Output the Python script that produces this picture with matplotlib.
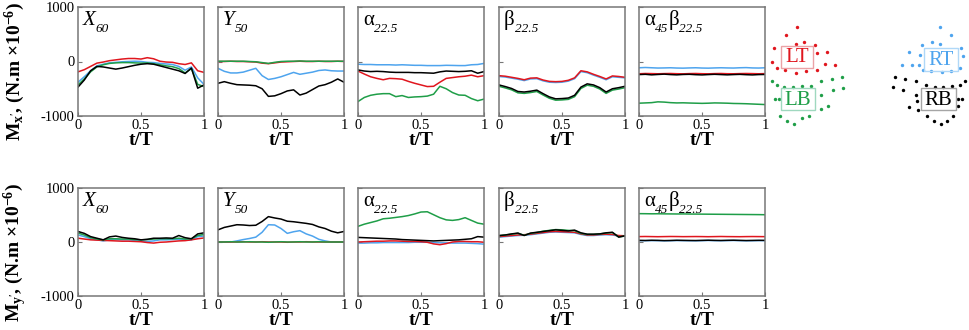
import matplotlib
matplotlib.use('Agg')
import matplotlib.pyplot as plt
from matplotlib.patches import Rectangle
from matplotlib.transforms import offset_copy

plt.rcParams['font.family'] = ['Liberation Serif', 'DejaVu Serif']
plt.rcParams['mathtext.fontset'] = 'custom'
plt.rcParams['mathtext.rm'] = 'Liberation Serif'
plt.rcParams['mathtext.it'] = 'Liberation Serif:italic'
plt.rcParams['mathtext.bf'] = 'Liberation Serif:bold'
plt.rcParams['axes.unicode_minus'] = False

# temps adimensionnel
t_T = [0, 0.05, 0.1, 0.15, 0.2, 0.25, 0.3, 0.35, 0.4, 0.45, 0.5,
       0.55, 0.6, 0.65, 0.7, 0.75, 0.8, 0.85, 0.9, 0.95, 1.0]

# ---- Mx' (rangee du haut) : lt = rouge, lb = vert, rt = bleu, rb = noir
mx_x60_lt = [-190, -150, -90, -30, -10, 15, 30, 45, 55, 55, 45, 70, 50, 5, -10, -15, -40, -55, -25, -170, -200]
mx_x60_rt = [-380, -280, -170, -80, -50, -25, -15, -5, 0, 5, 0, -15, -20, -35, -45, -55, -90, -160, -100, -300, -420]
mx_x60_lb = [-430, -320, -190, -100, -60, -35, -25, -20, -20, -25, -30, -25, -40, -60, -80, -95, -130, -210, -130, -420, -460]
mx_x60_rb = [-470, -340, -170, -90, -100, -120, -140, -120, -95, -70, -50, -40, -50, -80, -110, -140, -170, -220, -120, -490, -430]

mx_y50_lt = [0, 0, 5, 0, 0, -5, -10, -30, -40, -25, -10, -5, 0, 5, 0, 0, 5, 0, 0, 5, 0]
mx_y50_lb = [5, 5, 5, 5, 5, 0, -5, -20, -35, -15, 0, 5, 5, 10, 5, 5, 5, 5, 5, 5, 5]
mx_y50_rt = [-125, -180, -210, -210, -195, -160, -125, -260, -330, -310, -280, -240, -200, -235, -215, -195, -165, -155, -170, -175, -175]
mx_y50_rb = [-400, -370, -400, -425, -430, -435, -445, -500, -640, -630, -590, -540, -520, -615, -580, -515, -450, -425, -380, -320, -380]

mx_a22_lt = [-175, -230, -280, -310, -335, -310, -315, -325, -365, -400, -430, -460, -455, -380, -310, -295, -280, -270, -250, -280, -260]
mx_a22_lb = [-735, -660, -620, -600, -590, -590, -645, -625, -660, -650, -645, -635, -600, -455, -500, -570, -615, -620, -680, -720, -690]
mx_a22_rt = [-50, -55, -55, -60, -60, -60, -65, -60, -65, -70, -70, -75, -75, -75, -70, -72, -75, -75, -60, -55, -35]
mx_a22_rb = [-155, -175, -185, -180, -185, -195, -200, -200, -200, -205, -205, -210, -215, -190, -175, -180, -185, -180, -170, -215, -185]

mx_b22_lt = [-260, -270, -290, -310, -335, -305, -300, -340, -365, -370, -365, -345, -300, -170, -190, -235, -275, -320, -265, -275, -290]
mx_b22_rt = [-275, -285, -305, -325, -350, -320, -315, -355, -380, -385, -380, -360, -315, -185, -205, -250, -290, -335, -280, -290, -300]
mx_b22_rb = [-430, -460, -495, -550, -560, -545, -525, -590, -650, -685, -680, -670, -620, -470, -410, -430, -480, -560, -500, -480, -455]
mx_b22_lb = [-455, -485, -520, -575, -585, -570, -550, -615, -675, -710, -705, -695, -645, -495, -435, -455, -505, -585, -525, -505, -480]

mx_ab_rt = [-115, -110, -115, -120, -118, -115, -120, -122, -118, -115, -120, -122, -118, -115, -118, -120, -115, -112, -118, -120, -115]
mx_ab_lt = [-225, -220, -222, -225, -222, -220, -224, -226, -222, -220, -224, -226, -222, -220, -224, -225, -222, -220, -222, -225, -222]
mx_ab_rb = [-240, -235, -245, -238, -232, -240, -245, -238, -235, -242, -246, -240, -235, -240, -245, -240, -236, -242, -246, -240, -238]
mx_ab_lb = [-765, -760, -755, -740, -745, -755, -760, -758, -762, -765, -768, -765, -760, -762, -765, -770, -772, -775, -780, -785, -790]

# ---- My' (rangee du bas)
my_x60_rb = [195, 160, 100, 70, 40, 95, 110, 85, 70, 60, 40, 50, 70, 70, 75, 70, 120, 80, 60, 150, 170]
my_x60_rt = [130, 100, 60, 40, 20, 40, 45, 40, 40, 30, 15, 10, 20, 40, 40, 45, 50, 40, 40, 100, 110]
my_x60_lb = [165, 130, 80, 55, 40, 60, 60, 55, 55, 45, 40, 45, 55, 60, 60, 60, 70, 55, 60, 120, 140]
my_x60_lt = [70, 55, 40, 35, 30, 25, 20, 15, 15, 10, 5, -10, -20, -5, 0, 10, 20, 25, 40, 60, 75]

my_y50_rb = [225, 270, 295, 320, 315, 305, 310, 380, 470, 445, 425, 385, 375, 360, 345, 325, 280, 250, 200, 170, 195]
my_y50_rt = [0, 0, 0, 20, 45, 65, 90, 180, 320, 315, 250, 160, 190, 210, 150, 110, 50, 20, 0, 0, 0]
my_y50_lb = [0, 0, 5, 0, 0, 5, 0, 0, -5, 0, 5, 0, 0, 5, 0, 0, 5, 0, 0, 0, 0]
my_y50_lt = [0, 0, 0, 0, 5, 0, 0, 5, 0, 0, 0, -5, 0, 0, 5, 0, 0, 0, 0, 0, 0]

my_a22_lb = [290, 330, 360, 390, 430, 440, 455, 470, 490, 520, 555, 560, 505, 450, 410, 400, 415, 450, 400, 350, 330]
my_a22_rb = [85, 80, 75, 70, 65, 60, 55, 45, 40, 35, 30, 25, 20, 25, 30, 35, 40, 50, 60, 100, 90]
my_a22_lt = [0, 5, 10, 15, 15, 20, 20, 15, 10, 10, 5, -5, -35, -50, -30, 0, 10, 10, 5, 5, -5]
my_a22_rt = [-20, -20, -15, -15, -10, -10, -10, -10, -10, -5, -5, -5, -10, -15, -15, -20, -20, -20, -25, -30, -40]

my_b22_rb = [120, 130, 150, 165, 120, 165, 180, 195, 210, 225, 215, 205, 220, 170, 145, 145, 150, 170, 180, 90, 115]
my_b22_lb = [115, 130, 145, 160, 125, 160, 175, 200, 215, 230, 225, 215, 210, 160, 140, 140, 150, 165, 175, 95, 110]
my_b22_lt = [100, 110, 120, 130, 135, 145, 160, 175, 190, 195, 190, 185, 180, 150, 130, 130, 140, 145, 140, 120, 115]
my_b22_rt = [90, 100, 110, 120, 125, 135, 150, 165, 180, 185, 180, 175, 170, 140, 120, 120, 130, 135, 130, 110, 105]

my_ab_lb = [525, 524, 522, 523, 521, 520, 519, 520, 518, 517, 516, 515, 514, 513, 512, 511, 510, 509, 508, 507, 505]
my_ab_lt = [100, 102, 100, 98, 100, 102, 101, 99, 100, 101, 100, 98, 100, 102, 100, 99, 98, 100, 101, 100, 99]
my_ab_rb = [30, 28, 32, 30, 26, 28, 32, 30, 28, 27, 30, 33, 30, 28, 31, 33, 30, 27, 29, 31, 30]
my_ab_rt = [25, 24, 26, 25, 22, 24, 27, 25, 24, 23, 25, 28, 25, 24, 26, 28, 25, 23, 24, 26, 25]

# schema des positions (points autour des etiquettes), en pixels
pts_lt_x = [796.7, 785.7, 774, 795.7, 804.3, 815, 817.3, 827.3, 825, 835, 817.3, 806, 795.7, 785, 776.7, 772.3]
pts_lt_y = [27, 34.7, 48, 43.7, 42, 44.7, 53, 52.3, 64, 64.7, 69.7, 71.3, 73, 70.3, 68, 62]
pts_lb_x = [771.7, 776.7, 784.3, 792.7, 801.7, 811, 821, 831.7, 842.3, 833.3, 842.7, 821, 775, 779.3, 828.3, 821, 809.3, 801.7, 794.3, 787.3, 780]
pts_lb_y = [81.3, 84.7, 87.3, 87.3, 86.3, 85.7, 81.3, 79, 77, 90.3, 88, 95.3, 99, 99, 106.3, 108.7, 115.7, 118, 124, 121.3, 116.3]
pts_rt_x = [940, 951, 921.7, 932.3, 940, 909, 920, 961, 963.3, 901.7, 911.7, 919.3, 960, 951, 941.7, 931, 923.3]
pts_rt_y = [27, 34.7, 44.7, 42, 44, 52.3, 54.7, 48, 56.3, 64.7, 64.7, 64.7, 68, 71.3, 72.3, 71.3, 69.7]
pts_rb_x = [895, 905, 916, 926, 935, 943.3, 951.7, 960, 965, 893.3, 903.3, 916, 916.7, 909.3, 917.7, 958.3, 961.7, 958.3, 953.3, 946.7, 941, 934, 927.3]
pts_rb_y = [77.3, 78.7, 81.3, 84.7, 87.3, 87.3, 86.3, 84.7, 81.3, 87.3, 89.7, 94.7, 101.3, 107.3, 109.7, 99, 99, 106.3, 116.3, 120.7, 124, 120.7, 116.3]

rouge = '#e0161e'
vert = '#1f9e48'
bleu = '#4ea4ee'
noir = '#000000'

# titres : (texte, style, indice ?)
titres = [
    [('X', 'italic', False), ('60', 'italic', True)],
    [('Y', 'italic', False), ('50', 'italic', True)],
    [('α', 'normal', False), ('22.5', 'italic', True)],
    [('β', 'normal', False), ('22.5', 'italic', True)],
    [('α', 'normal', False), ('45', 'italic', True), ('β', 'normal', False), ('22.5', 'italic', True)],
]

rangee_mx = [
    (mx_x60_rt, mx_x60_lt, mx_x60_lb, mx_x60_rb),
    (mx_y50_rt, mx_y50_lt, mx_y50_lb, mx_y50_rb),
    (mx_a22_rt, mx_a22_lt, mx_a22_lb, mx_a22_rb),
    (mx_b22_rt, mx_b22_lt, mx_b22_lb, mx_b22_rb),
    (mx_ab_rt, mx_ab_lt, mx_ab_lb, mx_ab_rb),
]
rangee_my = [
    (my_x60_rt, my_x60_lt, my_x60_lb, my_x60_rb),
    (my_y50_rt, my_y50_lt, my_y50_lb, my_y50_rb),
    (my_a22_rt, my_a22_lt, my_a22_lb, my_a22_rb),
    (my_b22_rt, my_b22_lt, my_b22_lb, my_b22_rb),
    (my_ab_rt, my_ab_lt, my_ab_lb, my_ab_rb),
]

W, H = 969, 330
fig = plt.figure(figsize=(W / 100, H / 100), dpi=100)
rend = fig.canvas.get_renderer()

gauches = [78, 218, 358, 499, 639]
largeur = 126


def titre_panneau(ax, morceaux):
    dx = 5
    for texte, style, indice in morceaux:
        taille = 9.5 if indice else 15
        dy = -25 if indice else -18
        tr = offset_copy(ax.transAxes, fig=fig, x=dx, y=dy, units='dots')
        txt = ax.text(0, 1, texte, transform=tr, fontsize=taille, fontstyle=style,
                      ha='left', va='baseline')
        dx += txt.get_window_extent(rend).width


def panneau(x0, haut, bas, courbes, morceaux, premier):
    ax = fig.add_axes([x0 / W, 1 - bas / H, largeur / W, (bas - haut) / H])
    for y, c in zip(courbes, [bleu, rouge, vert, noir]):
        ax.plot(t_T, y, color=c, lw=1.1)
    ax.set_xlim(0, 1)
    ax.set_ylim(-1000, 1000)
    ax.set_xticks([0, 0.5, 1])
    ax.set_xticklabels(['0', '0.5', '1'])
    ax.set_yticks([-1000, 0, 1000])
    if premier:
        ax.set_yticklabels(['-1000', '0', '1000'])
    else:
        ax.set_yticklabels([])
    ax.tick_params(direction='in', length=3, width=0.8, color='#777777',
                   labelsize=10.5, pad=2.5)
    for s in ax.spines.values():
        s.set_color('#777777')
        s.set_linewidth(1.1)
    ax.set_xlabel('t/T', fontsize=14, fontweight='bold')
    ax.xaxis.set_label_coords(0.5, -0.15)
    titre_panneau(ax, morceaux)
    return ax


for i in range(5):
    panneau(gauches[i], 7, 116, rangee_mx[i], titres[i], i == 0)
    panneau(gauches[i], 188, 296, rangee_my[i], titres[i], i == 0)

fig.text(15 / W, 1 - 72 / H, r"$\mathbf{M_{x'}}$, (N.m ×10$^{\mathbf{-6}}$)",
         rotation=90, ha='center', va='center', fontsize=14, fontweight='bold')
fig.text(15 / W, 1 - 253 / H, r"$\mathbf{M_{y'}}$, (N.m ×10$^{\mathbf{-6}}$)",
         rotation=90, ha='center', va='center', fontsize=14, fontweight='bold')

# schema a droite
sch = fig.add_axes([0, 0, 1, 1])
sch.set_xlim(0, W)
sch.set_ylim(H, 0)
sch.axis('off')
sch.patch.set_alpha(0)
sch.scatter(pts_lt_x, pts_lt_y, s=6, color=rouge, lw=0)
sch.scatter(pts_lb_x, pts_lb_y, s=6, color=vert, lw=0)
sch.scatter(pts_rt_x, pts_rt_y, s=6, color=bleu, lw=0)
sch.scatter(pts_rb_x, pts_rb_y, s=6, color=noir, lw=0)

boites = [('LT', 780.7, 45.7, 32.6, 22.3, rouge, '#eba2a6'),
          ('LB', 780.7, 88, 34.3, 22.3, vert, '#9fd8bf'),
          ('RT', 924, 48, 34.3, 22.7, bleu, '#b0d8f8'),
          ('RB', 921, 88, 35, 22.3, noir, '#a5a5a5')]
for nom, bx, by, bw, bh, ct, cb in boites:
    sch.add_patch(Rectangle((bx, by), bw, bh, fill=False, edgecolor=cb, lw=1.0))
    sch.text(bx + bw / 2, by + bh / 2 + 1, nom, color=ct, fontsize=15,
             ha='center', va='center')

fig.savefig('out.png', dpi=100)
